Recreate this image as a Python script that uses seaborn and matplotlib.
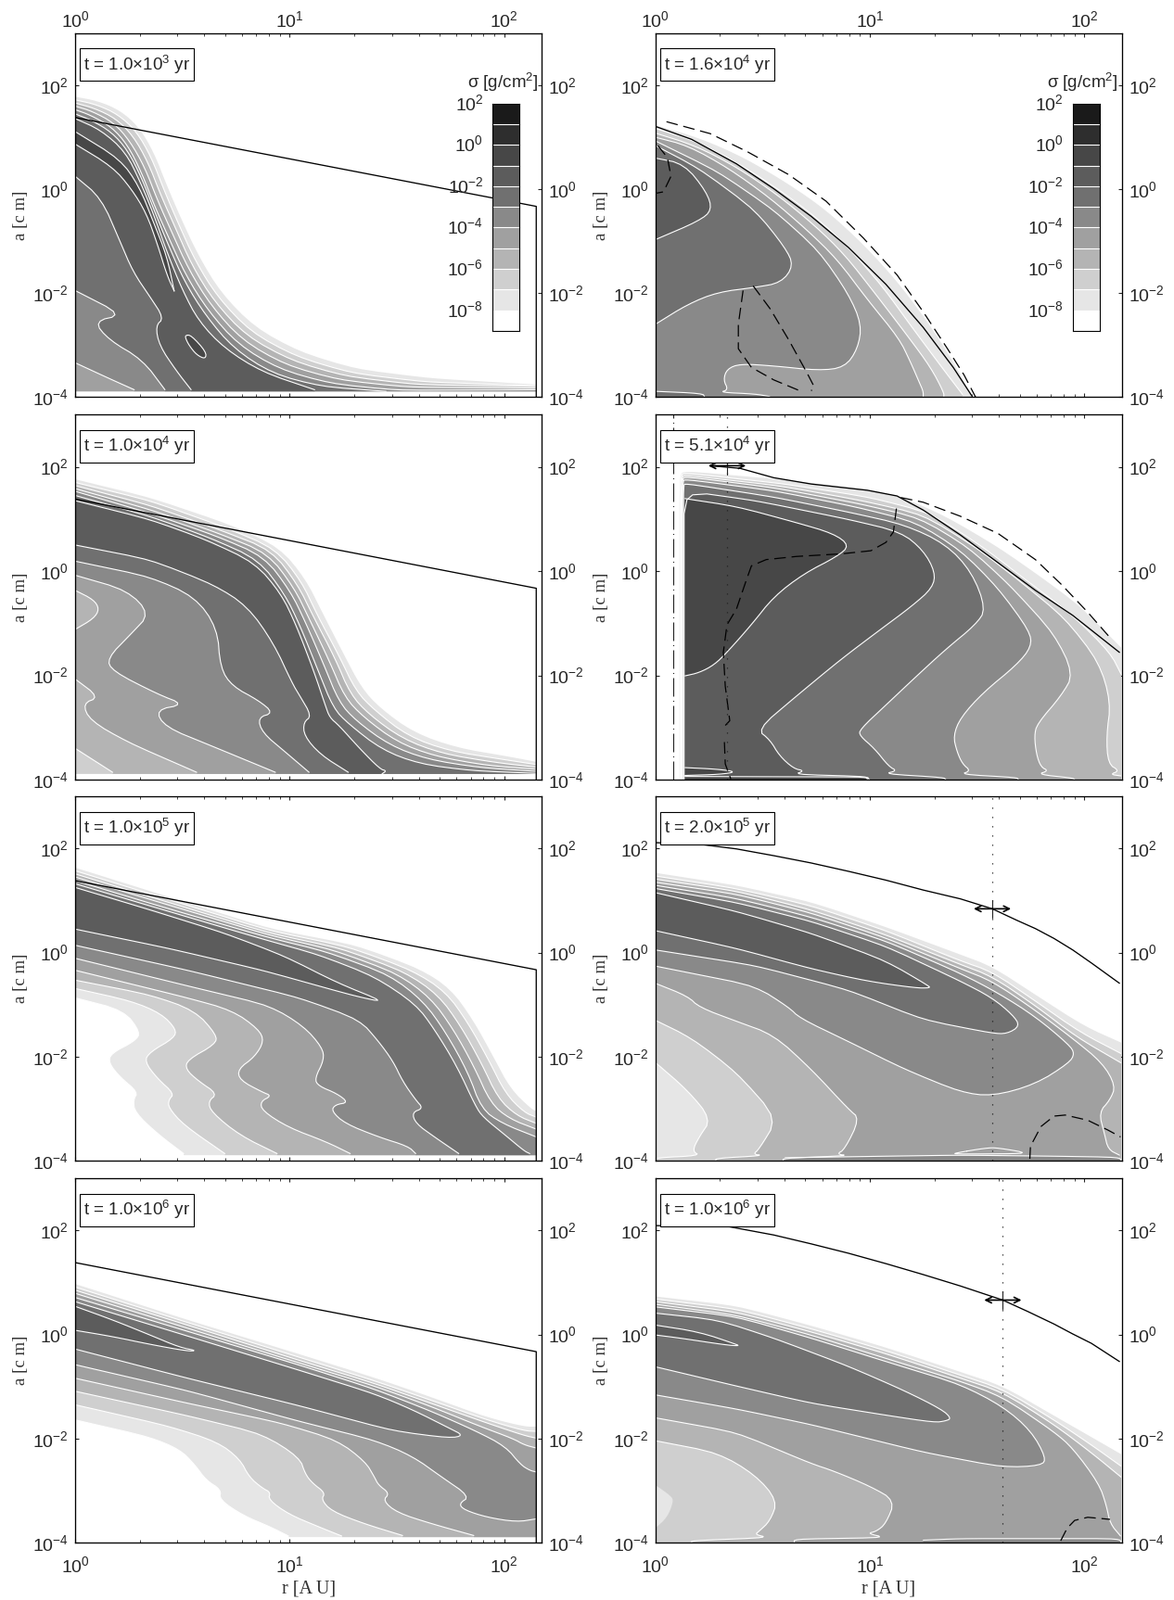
"""
Dust surface density sigma(r, a) at eight times, two columns of log-log panels
All curves are kept as (log10 r, log10 a) pairs read off the figure
"""
import numpy as np
import matplotlib
matplotlib.use('Agg')
import matplotlib.pyplot as plt
from matplotlib.colors import ListedColormap
from matplotlib.patches import Rectangle
from matplotlib.ticker import LogLocator, NullLocator, NullFormatter
import seaborn as sns

W, H = 1266, 1726
FLOOR_L = -3.89
FLOOR_R = -4.0

GREYS = {1: '#1a1a1a', 0: '#2e2e2e', -1: '#474747', -2: '#5c5c5c', -3: '#707070',
         -4: '#898989', -5: '#a0a0a0', -6: '#b4b4b4', -7: '#cfcfcf', -8: '#e6e6e6',
         -9: '#ffffff'}
CBAR_LEVELS = [1, 0, -1, -2, -3, -4, -5, -6, -7, -8, -9]
CBAR_TICKS = [2, 0, -2, -4, -6, -8]

# fragmentation limit of the left column
LIMIT_L = [(0, 1.38), (2.15, -0.33), (2.15, -4.0)]

# ---- panel 1, t = 1e3
P1_M8 = [(0, 1.78), (.105, 1.70), (.209, 1.52), (.297, 1.20), (.366, .72), (.428, .07), (.489, -.52), (.576, -1.29), (.681, -2.0), (.838, -2.66), (1.047, -3.13), (1.309, -3.46), (1.658, -3.64), (2.15, -3.76)]
P1_M7 = [(0, 1.72), (.10, 1.63), (.20, 1.44), (.285, 1.12), (.355, .62), (.415, -.02), (.477, -.62), (.56, -1.38), (.665, -2.08), (.82, -2.75), (1.03, -3.22), (1.29, -3.54), (1.63, -3.71), (2.15, -3.78)]
P1_M6 = [(0, 1.66), (.09, 1.56), (.19, 1.36), (.27, 1.03), (.34, .52), (.40, -.12), (.465, -.72), (.545, -1.47), (.65, -2.17), (.80, -2.83), (1.01, -3.30), (1.26, -3.60), (1.59, -3.76), (2.15, -3.80)]
P1_M5 = [(0, 1.60), (.08, 1.50), (.18, 1.28), (.255, .93), (.325, .42), (.385, -.22), (.45, -.82), (.53, -1.55), (.635, -2.25), (.78, -2.91), (.98, -3.38), (1.23, -3.67), (1.55, -3.81), (2.15, -3.83)]
P1_M4 = [(0, 1.53), (.07, 1.43), (.17, 1.20), (.245, .85), (.31, .32), (.37, -.32), (.435, -.92), (.515, -1.65), (.62, -2.34), (.76, -2.99), (.95, -3.46), (1.19, -3.74), (1.5, -3.87), (2.15, -3.86)]
P1_M3 = [(0, 1.45), (.075, 1.33), (.17, 1.10), (.245, .75), (.31, .22), (.37, -.42), (.432, -1.05), (.51, -1.78), (.61, -2.44), (.74, -3.07), (.92, -3.55), (1.15, -3.80), (1.45, -3.89)]
P1_M2 = [(0, 1.36), (.12, 1.14), (.235, .72), (.305, .13), (.365, -.47), (.43, -1.23), (.50, -1.94), (.576, -2.54), (.698, -3.07), (.873, -3.52), (1.117, -3.86)]
P1_M4_IN = [(0, -3.34), (.157, -3.64), (.276, -3.86)]
P1_M3_IN = [(0, -1.95), (.223, -2.42), (.087, -2.54), (.157, -2.90), (.314, -3.28), (.419, -3.86)]
P1_M2_IN = [(0, .25), (.122, -.17), (.209, -1.0), (.27, -1.59), (.349, -2.07), (.414, -2.48), (.375, -2.63), (.393, -3.01), (.471, -3.49), (.541, -3.86)]
P1_M1 = [(0, 1.11), (.209, .58), (.297, .07), (.366, -.64), (.428, -1.29), (.462, -1.96)]
P1_M1_IN = [(0, .87), (.175, .43), (.262, .01), (.332, -.46), (.384, -1.06), (.428, -1.65), (.462, -1.96)]
P1_ISLAND = [(.515, -2.81), (.541, -2.81), (.611, -3.13), (.608, -3.27), (.567, -3.19), (.532, -3.01), (.515, -2.87)]

# ---- panel 2, t = 1.6e4
P2_M8 = [(0, 1.23), (.204, .99), (.413, .61), (.622, .10), (.796, -.40), (.97, -1.06), (1.127, -1.77), (1.267, -2.54), (1.389, -3.31), (1.476, -4.0)]
P2_M7 = [(0, 1.17), (.186, .93), (.378, .52), (.57, .01), (.744, -.52), (.90, -1.12), (1.057, -1.86), (1.197, -2.66), (1.336, -3.43), (1.432, -3.95)]
P2_M6 = [(0, 1.08), (.186, .84), (.378, .43), (.57, -.11), (.744, -.70), (.883, -1.26), (1.031, -2.04), (1.179, -2.84), (1.284, -3.43), (1.345, -3.91), (1.345, -4.0)]
P2_M5 = [(0, 1.0), (.152, .84), (.343, .40), (.535, -.17), (.709, -.79), (.848, -1.35), (.988, -2.12), (1.136, -2.87), (1.188, -3.31), (1.232, -3.73), (1.249, -3.89), (1.249, -4.0)]
P2_M4 = [(0, .93), (.291, .34), (.552, -.40), (.761, -1.18), (.90, -2.01), (.962, -2.60), (.944, -3.07), (.883, -3.43), (.761, -3.49), (.552, -3.40), (.395, -3.36), (.334, -3.46), (.317, -3.67), (.34, -3.86), (.30, -3.91), (.465, -3.94), (.533, -3.99)]
P2_M3 = [(0, .84), (.204, .40), (.465, -.40), (.605, -1.12), (.645, -1.47), (.587, -1.80), (.465, -1.89), (.291, -1.98), (.152, -2.21), (0, -2.60)]
P2_M2 = [(0, .60), (.134, .49), (.239, -.05), (.265, -.40), (.204, -.61), (0, -.97)]
P2_STRIP = [(0, -3.89), (.221, -3.93), (.23, -4.0)]
P2_LIMIT = [(0, 1.21), (.169, .96), (.378, .49), (.552, .01), (.726, -.52), (.9, -1.12), (1.075, -1.83), (1.249, -2.66), (1.389, -3.43), (1.476, -3.98)]
P2_DASH_A = [(.052, 1.30), (.256, 1.07), (.43, .72), (.622, .28), (.796, -.23), (.97, -.94), (1.127, -1.65), (1.249, -2.36), (1.362, -3.07), (1.44, -3.58), (1.493, -4.0)]
P2_DASH_B = [(.012, .84), (.056, .61), (.073, .25), (.038, -.05), (0, -.08)]
P2_DASH_C = [(.409, -1.95), (.387, -2.60), (.387, -3.07), (.448, -3.43), (.552, -3.67), (.674, -3.88)]
P2_DASH_D = [(.456, -1.86), (.535, -2.30), (.622, -2.90), (.709, -3.55), (.739, -3.79), (.727, -3.88)]

# ---- panel 3, t = 1e4
P3_M8 = [(0, 1.76), (.349, 1.41), (.716, .90), (.951, .46), (1.073, -.14), (1.152, -.79), (1.248, -1.56), (1.335, -2.24), (1.422, -2.63), (1.579, -3.10), (1.78, -3.39), (2.024, -3.56), (2.15, -3.66)]
P3_M7 = [(0, 1.70), (.349, 1.35), (.698, .84), (.934, .43), (1.056, -.20), (1.126, -.82), (1.230, -1.62), (1.309, -2.30), (1.396, -2.67), (1.553, -3.17), (1.745, -3.45), (1.99, -3.61), (2.15, -3.71)]
P3_M6 = [(0, 1.64), (.349, 1.26), (.681, .78), (.916, .40), (1.038, -.26), (1.108, -.85), (1.213, -1.68), (1.283, -2.36), (1.37, -2.75), (1.527, -3.22), (1.71, -3.50), (1.955, -3.67), (2.15, -3.76)]
P3_M5 = [(0, 1.58), (.349, 1.18), (.672, .72), (.899, .34), (1.021, -.32), (1.091, -.91), (1.187, -1.74), (1.257, -2.42), (1.344, -2.80), (1.501, -3.28), (1.676, -3.55), (1.92, -3.73), (2.15, -3.80)]
P3_M4 = [(0, 1.53), (.349, 1.11), (.654, .68), (.881, .28), (1.003, -.38), (1.073, -.97), (1.16, -1.80), (1.23, -2.51), (1.309, -2.87), (1.466, -3.34), (1.641, -3.61), (1.885, -3.77), (2.15, -3.84)]
P3_M3 = [(0, 1.45), (.349, 1.05), (.628, .64), (.855, .22), (.977, -.44), (1.047, -1.03), (1.134, -1.92), (1.204, -2.63), (1.274, -2.93), (1.431, -3.43), (1.606, -3.70), (1.85, -3.83), (2.15, -3.88)]
P3_M2 = [(0, 1.35), (.349, .99), (.611, .60), (.838, .16), (.96, -.43), (1.03, -1.03), (1.113, -1.92), (1.166, -2.57), (1.187, -2.81), (1.23, -2.96), (1.326, -3.40), (1.422, -3.80), (1.452, -3.83), (1.431, -3.89)]
P3_M2_IN = [(0, .50), (.349, .22), (.646, -.26), (.803, -.67), (.925, -1.38), (1.012, -2.15), (1.047, -2.39), (1.103, -2.78), (1.065, -2.90), (1.068, -3.16), (1.143, -3.52), (1.274, -3.86)]
P3_M3_IN = [(0, .19), (.349, -.11), (.558, -.49), (.663, -1.09), (.677, -1.86), (.733, -2.21), (.855, -2.48), (.925, -2.72), (.852, -2.81), (.873, -3.10), (.977, -3.46), (1.091, -3.86)]
P3_M4_IN = [(0, -.08), (.244, -.37), (.349, -.82), (.262, -1.20), (.148, -1.68), (.175, -1.92), (.384, -2.36), (.51, -2.56), (.375, -2.66), (.419, -2.99), (.628, -3.34), (.934, -3.86)]
P3_M5_IN = [(0, -2.07), (.113, -2.42), (.035, -2.54), (.07, -2.87), (.244, -3.28), (.567, -3.86)]
P3_M6_IN = [(0, -3.40), (.175, -3.86)]
P3_POCKET = [(0, -.37), (.087, -.55), (.113, -.73), (.087, -.91), (0, -1.12)]

# ---- panel 4, t = 5.1e4
P4_M8 = [(.113, -4.0), (.113, 1.84), (.138, 1.92), (.627, 1.74), (1.024, 1.54), (1.162, 1.40), (1.354, 1.05), (1.598, .46), (1.807, -.14), (1.98, -.67), (2.172, -1.47)]
P4_M7 = [(.117, -4.0), (.117, 1.84), (.14, 1.88), (.605, 1.67), (1.005, 1.41), (1.284, 1.11), (1.528, .46), (1.737, -.20), (1.946, -.85), (2.12, -1.56), (2.172, -1.98)]
P4_M6 = [(.12, -4.0), (.12, 1.80), (.14, 1.84), (.587, 1.63), (.965, 1.35), (1.249, 1.08), (1.493, .46), (1.702, -.20), (1.911, -.91), (2.068, -1.74), (2.124, -2.51), (2.103, -3.16), (2.111, -3.70), (2.164, -3.83), (2.12, -3.90), (2.172, -3.93)]
P4_M5 = [(.124, -4.0), (.124, 1.76), (.14, 1.81), (.552, 1.60), (.953, 1.29), (1.232, 1.02), (1.458, .46), (1.65, -.26), (1.859, -1.20), (1.951, -1.97), (1.893, -2.39), (1.78, -2.93), (1.767, -3.16), (1.777, -3.52), (1.798, -3.76), (1.833, -3.83), (1.781, -3.90), (1.946, -3.97), (1.955, -4.0)]
P4_M4 = [(.127, -4.0), (.127, 1.72), (.14, 1.76), (.552, 1.54), (.936, 1.23), (1.214, .94), (1.423, .40), (1.597, -.32), (1.745, -1.15), (1.754, -1.45), (1.685, -1.80), (1.528, -2.33), (1.423, -2.81), (1.389, -3.16), (1.406, -3.46), (1.432, -3.70), (1.470, -3.83), (1.423, -3.90), (1.685, -3.96), (1.693, -4.0)]
P4_M3 = [(.131, -4.0), (.131, 1.64), (.14, 1.68), (.552, 1.42), (.902, 1.13), (1.162, .89), (1.354, .52), (1.476, -.02), (1.542, -.73), (1.493, -1.03), (1.354, -1.5), (1.214, -2.03), (1.075, -2.57), (.953, -3.04), (.953, -3.16), (1.021, -3.40), (1.089, -3.75), (1.127, -3.83), (1.066, -3.89), (1.345, -3.96), (1.354, -4.0)]
P4_M2 = [(.134, -4.0), (.134, 1.54), (.467, 1.35), (.902, .99), (1.145, .75), (1.249, .40), (1.305, -.02), (1.293, -.32), (1.197, -.67), (1.04, -1.15), (.866, -1.69), (.657, -2.40), (.474, -3.04), (.535, -3.24), (.578, -3.54), (.645, -3.79), (.695, -3.83), (.648, -3.90), (.988, -3.94), (.997, -4.0)]
P4_M1 = [(.138, 1.39), (.378, 1.24), (.657, .93), (.831, .72), (.906, .49), (.848, .28), (.692, -.05), (.552, -.49), (.448, -1.03), (.334, -1.56), (.274, -1.80), (.204, -1.95), (.138, -2.01)]
P4_PATCH_A = [(.138, -3.77), (.291, -3.80), (.378, -3.85), (.305, -3.90), (.138, -3.92)]
P4_PATCH_B = [(.138, -3.94), (.988, -3.95), (.988, -4.0)]
P4_LIMIT = [(.256, 2.02), (.395, 1.97), (.552, 1.79), (.726, 1.67), (.988, 1.55), (1.127, 1.44), (1.249, 1.17), (1.423, .69), (1.598, .16), (1.772, -.37), (1.946, -.85), (2.164, -1.56)]
P4_DASH_A = [(1.145, 1.41), (1.249, 1.32), (1.423, 1.05), (1.598, .72), (1.772, .22), (1.894, -.26), (2.016, -.79), (2.129, -1.32)]
P4_DASH_B = [(1.124, 1.20), (1.11, .75), (1.075, .55), (1.005, .39), (.866, .33), (.657, .28), (.517, .22), (.448, .10), (.422, -.20), (.378, -.73), (.334, -1.03), (.317, -1.56), (.326, -2.21), (.347, -2.87), (.308, -3.04)]
P4_DASH_C = [(.322, -3.28), (.326, -3.70), (.352, -3.99)]

# ---- panel 5, t = 1e5
P5_M8 = [(0, 1.63), (.908, .46), (1.309, .14), (1.606, -.31), (1.75, -.69), (1.855, -1.29), (1.95, -2.0), (2.03, -2.62), (2.129, -3.01), (2.15, -3.04)]
P5_M7 = [(0, 1.57), (.908, .42), (1.274, .11), (1.571, -.34), (1.728, -.75), (1.832, -1.35), (1.928, -2.06), (2.007, -2.71), (2.094, -3.07), (2.15, -3.16)]
P5_M6 = [(0, 1.51), (.908, .37), (1.239, .08), (1.536, -.37), (1.693, -.81), (1.798, -1.41), (1.894, -2.12), (1.972, -2.80), (2.059, -3.13), (2.15, -3.28)]
P5_M5 = [(0, 1.45), (.908, .33), (1.204, .05), (1.501, -.40), (1.658, -.87), (1.763, -1.47), (1.859, -2.18), (1.937, -2.89), (2.024, -3.19), (2.15, -3.39)]
P5_M4 = [(0, 1.38), (.436, .84), (.908, .28), (1.169, .02), (1.466, -.43), (1.623, -.93), (1.728, -1.53), (1.832, -2.30), (1.894, -3.0), (1.99, -3.28), (2.15, -3.54)]
P5_M3 = [(0, 1.32), (.436, .79), (.873, .26), (1.134, -.04), (1.396, -.46), (1.588, -.99), (1.675, -1.47), (1.78, -2.18), (1.867, -2.95), (1.902, -3.16), (2.007, -3.51), (2.094, -3.81), (2.12, -3.86)]
P5_M2 = [(0, 1.25), (.349, .82), (.698, .37), (.977, -.07), (1.222, -.58), (1.45, -.96), (1.309, -.84), (.873, -.34), (.436, .08), (0, .45)]
P5_M3_IN = [(0, .14), (.524, -.34), (1.047, -.87), (1.326, -1.29), (1.414, -1.70), (1.483, -2.09), (1.527, -2.47), (1.588, -2.83), (1.623, -2.99), (1.571, -3.07), (1.588, -3.28), (1.675, -3.54), (1.789, -3.86)]
P5_M4_IN = [(0, -.11), (.524, -.64), (.908, -1.02), (1.065, -1.41), (1.152, -1.82), (1.161, -2.06), (1.117, -2.42), (1.134, -2.56), (1.222, -2.71), (1.274, -2.88), (1.213, -2.92), (1.195, -3.04), (1.257, -3.28), (1.414, -3.54), (1.553, -3.72), (1.588, -3.86)]
P5_M5_IN = [(0, -.34), (.524, -.87), (.733, -1.11), (.855, -1.47), (.881, -1.70), (.838, -2.0), (.759, -2.24), (.768, -2.45), (.873, -2.68), (.916, -2.75), (.864, -2.86), (.873, -3.04), (.995, -3.36), (1.169, -3.63), (1.283, -3.86)]
P5_M6_IN = [(0, -.53), (.349, -.81), (.558, -1.11), (.66, -1.58), (.654, -1.76), (.524, -2.06), (.515, -2.24), (.576, -2.47), (.663, -2.71), (.62, -2.86), (.637, -3.07), (.768, -3.51), (.942, -3.86)]
P5_M7_IN = [(0, -.69), (.262, -.93), (.401, -1.17), (.471, -1.47), (.462, -1.64), (.349, -1.91), (.323, -2.09), (.384, -2.42), (.462, -2.71), (.436, -2.83), (.436, -2.98), (.506, -3.31), (.698, -3.86)]
P5_M8_IN = [(0, -.87), (.227, -1.11), (.305, -1.53), (.279, -1.70), (.166, -1.94), (.157, -2.12), (.209, -2.39), (.293, -2.68), (.271, -2.83), (.279, -3.07), (.384, -3.48), (.506, -3.86)]

# ---- panel 6, t = 2e5
P6_M8 = [(0, 1.53), (.378, 1.29), (.726, .97), (1.075, .49), (1.423, -.04), (1.571, -.27), (1.772, -.81), (1.998, -1.41), (2.172, -1.73)]
P6_M7 = [(0, 1.47), (.378, 1.23), (.726, .90), (1.075, .42), (1.423, -.16), (1.571, -.37), (1.772, -.93), (1.98, -1.53), (2.172, -1.94)]
P6_M6 = [(0, 1.41), (.378, 1.18), (.726, .82), (1.075, .34), (1.423, -.23), (1.571, -.46), (1.772, -1.02), (1.963, -1.62), (2.172, -2.12)]
P6_M5 = [(0, 1.35), (.378, 1.12), (.726, .76), (1.075, .28), (1.423, -.31), (1.571, -.55), (1.772, -1.11), (1.946, -1.65), (2.085, -2.12), (2.146, -2.56), (2.12, -2.83), (2.068, -3.07), (2.094, -3.48), (2.111, -3.78), (2.164, -3.89)]
P6_M4 = [(0, 1.29), (.378, 1.04), (.726, .68), (1.075, .22), (1.423, -.40), (1.60, -.78), (1.772, -1.23), (1.929, -1.77), (1.955, -1.94), (1.929, -2.12), (1.772, -2.53), (1.571, -2.76), (1.423, -2.68), (1.162, -2.24), (.901, -1.71), (.674, -1.26), (.622, -1.05), (.465, -.64), (0, -.26)]
P6_M3 = [(0, 1.23), (.378, .96), (.726, .60), (1.075, .12), (1.423, -.55), (1.571, -.87), (1.667, -1.20), (1.70, -1.41), (1.64, -1.56), (1.571, -1.55), (1.249, -1.29), (.901, -.72), (.465, -.25), (0, .05)]
P6_M2 = [(0, 1.15), (.378, .79), (.726, .37), (1.075, -.16), (1.275, -.64), (1.28, -.68), (1.214, -.68), (.988, -.55), (.726, -.31), (.378, .08), (0, .42)]
P6_M5_IN = [(0, -.59), (.152, -.84), (.204, -1.05), (.378, -1.32), (.552, -1.58), (.727, -2.24), (.901, -3.01), (.953, -3.19), (.883, -3.78), (.845, -3.87), (.901, -3.90), (.596, -3.95), (.596, -4.0)]
P6_M6_IN = [(0, -1.30), (.169, -1.64), (.378, -2.30), (.57, -3.19), (.483, -3.78), (.456, -3.87), (.503, -3.90), (.282, -3.95), (.282, -4.0)]
P6_M7_IN = [(0, -2.11), (.152, -2.65), (.261, -3.20), (.204, -3.54), (.172, -3.81), (.209, -3.90), (0, -3.94), (0, -4.0)]
P6_ISLE = [(1.397, -3.85), (1.545, -3.75), (1.598, -3.75), (1.754, -3.86), (1.397, -3.87)]
P6_STRIP = [(.605, -3.94), (1.075, -3.91), (1.423, -3.89), (1.859, -3.91), (2.164, -3.93), (2.172, -4.0)]
P6_LIMIT = [(0, 2.11), (.204, 2.08), (.378, 1.99), (.552, 1.86), (.726, 1.72), (.90, 1.56), (1.075, 1.39), (1.249, 1.20), (1.423, 1.03), (1.571, .84), (1.685, .62), (1.772, .46), (1.859, .27), (1.946, .05), (2.033, -.20), (2.164, -.59)]
P6_DASH = [(1.746, -3.96), (1.749, -3.72), (1.798, -3.34), (1.859, -3.14), (1.911, -3.12), (2.016, -3.22), (2.111, -3.41), (2.169, -3.54)]

# ---- panel 7, t = 1e6
P7_M8 = [(0, .97), (.524, .28), (1.047, -.38), (1.396, -.83), (1.658, -1.20), (1.92, -1.59), (2.094, -1.77), (2.15, -1.77)]
P7_M7 = [(0, .91), (.524, .23), (1.047, -.44), (1.396, -.89), (1.658, -1.26), (1.92, -1.64), (2.094, -1.85), (2.15, -1.86)]
P7_M6 = [(0, .85), (.524, .18), (1.047, -.50), (1.396, -.94), (1.658, -1.32), (1.92, -1.70), (2.094, -1.94), (2.15, -1.99)]
P7_M5 = [(0, .79), (.524, .12), (1.047, -.55), (1.396, -.99), (1.658, -1.38), (1.885, -1.76), (2.042, -2.0), (2.094, -2.12), (2.15, -2.18)]
P7_M4 = [(0, .71), (.524, .06), (1.047, -.59), (1.396, -1.05), (1.658, -1.47), (1.867, -1.85), (2.007, -2.15), (2.077, -2.50), (2.12, -2.61), (2.15, -2.64)]
P7_M3 = [(0, .63), (.524, -.03), (1.047, -.69), (1.396, -1.14), (1.571, -1.44), (1.745, -1.80), (1.812, -1.94), (1.745, -1.99), (1.483, -1.85), (1.047, -1.37), (.524, -.84), (0, -.28)]
P7_M2 = [(0, .54), (.175, .28), (.349, -.01), (.489, -.25), (.567, -.31), (.524, -.32), (.349, -.19), (.175, -.04), (0, .08)]
P7_M4_IN = [(0, -.58), (.524, -1.08), (1.047, -1.67), (1.396, -2.03), (1.571, -2.33), (1.71, -2.74), (1.841, -3.11), (1.789, -3.25), (1.815, -3.37), (1.92, -3.51), (2.059, -3.60), (2.15, -3.54)]
P7_M5_IN = [(0, -.84), (.524, -1.32), (.96, -1.70), (1.222, -2.03), (1.353, -2.44), (1.396, -2.74), (1.414, -2.89), (1.466, -3.05), (1.435, -3.19), (1.501, -3.42), (1.658, -3.63), (1.859, -3.86)]
P7_M6_IN = [(0, -1.09), (.524, -1.56), (.873, -1.91), (1.047, -2.36), (1.073, -2.68), (1.108, -2.86), (1.166, -3.04), (1.148, -3.17), (1.195, -3.39), (1.344, -3.63), (1.527, -3.86)]
P7_M7_IN = [(0, -1.35), (.436, -1.76), (.663, -2.06), (.768, -2.39), (.812, -2.74), (.873, -2.95), (.911, -3.03), (.901, -3.17), (.995, -3.45), (1.134, -3.69), (1.243, -3.87)]
P7_M8_IN = [(0, -1.64), (.349, -1.97), (.489, -2.21), (.558, -2.50), (.611, -2.80), (.681, -2.98), (.672, -3.17), (.785, -3.48), (.908, -3.69), (.995, -3.87)]

# ---- panel 8, t = 1e6
P8_M8 = [(0, .73), (.378, .55), (.726, .17), (1.075, -.25), (1.423, -.72), (1.62, -.99), (1.859, -1.56), (2.033, -1.97), (2.172, -2.30)]
P8_M7 = [(0, .68), (.378, .49), (.726, .11), (1.075, -.31), (1.423, -.78), (1.62, -1.05), (1.859, -1.64), (2.033, -2.12), (2.172, -2.53)]
P8_M6 = [(0, .63), (.378, .43), (.726, .05), (1.075, -.37), (1.423, -.84), (1.62, -1.11), (1.859, -1.73), (2.033, -2.27), (2.172, -2.74)]
P8_M5 = [(0, .58), (.378, .37), (.726, -.01), (1.075, -.46), (1.423, -.90), (1.62, -1.20), (1.859, -1.87), (1.946, -2.18), (2.068, -2.86), (2.103, -3.28), (2.12, -3.63), (2.169, -3.87)]
P8_M4 = [(0, .53), (.378, .34), (.726, -.07), (1.075, -.52), (1.423, -.96), (1.62, -1.38), (1.752, -1.85), (1.822, -2.37), (1.80, -2.52), (1.62, -2.55), (1.249, -2.26), (.726, -1.73), (.378, -1.43), (0, -1.16)]
P8_M3 = [(0, .41), (.291, .28), (.552, -.07), (.90, -.61), (1.162, -1.08), (1.336, -1.44), (1.38, -1.61), (1.354, -1.66), (1.301, -1.69), (1.075, -1.55), (.726, -1.32), (.378, -.99), (0, -.62)]
P8_M2 = [(0, .18), (.204, .05), (.378, -.19), (.39, -.22), (.326, -.20), (.117, -.07), (0, -.01)]
P8_M5_IN = [(0, -1.60), (.378, -1.88), (.727, -2.48), (.831, -2.62), (1.005, -2.92), (1.118, -3.19), (1.075, -3.63), (1.031, -3.78), (.988, -3.82), (1.075, -3.90), (.648, -3.93), (.648, -4.0)]
P8_M6_IN = [(0, -2.04), (.291, -2.27), (.465, -2.69), (.57, -3.19), (.535, -3.58), (.483, -3.78), (.465, -3.84), (.526, -3.90), (.169, -3.96), (.169, -4.0)]
P8_POCKET = [(0, -2.89), (.073, -3.10), (.085, -3.20), (.056, -3.51), (0, -3.72)]
P8_STRIP = [(1.249, -3.95), (1.423, -3.92), (1.772, -3.92), (2.164, -3.92), (2.172, -4.0)]
P8_LIMIT = [(0, 2.09), (.343, 2.07), (.552, 1.91), (.726, 1.74), (.90, 1.56), (1.075, 1.36), (1.249, 1.15), (1.423, .93), (1.62, .66), (1.737, .44), (1.859, .20), (1.946, .01), (2.033, -.17), (2.164, -.52)]
P8_DASH = [(1.89, -3.96), (1.92, -3.72), (1.955, -3.57), (2.016, -3.51), (2.12, -3.55)]

TITLES = ['t = 1.0$\\times$10$^{3}$ yr', 't = 1.6$\\times$10$^{4}$ yr',
          't = 1.0$\\times$10$^{4}$ yr', 't = 5.1$\\times$10$^{4}$ yr',
          't = 1.0$\\times$10$^{5}$ yr', 't = 2.0$\\times$10$^{5}$ yr',
          't = 1.0$\\times$10$^{6}$ yr', 't = 1.0$\\times$10$^{6}$ yr']

# (level, outer line, inner line, floor)  painted in this order
BANDS = [
    [(-8, P1_M8, None, FLOOR_L), (-7, P1_M7, None, FLOOR_L), (-6, P1_M6, None, FLOOR_L),
     (-5, P1_M5, None, FLOOR_L), (-4, P1_M4, P1_M4_IN, FLOOR_L), (-3, P1_M3, P1_M3_IN, FLOOR_L),
     (-2, P1_M2, P1_M2_IN, FLOOR_L), (-1, P1_M1, P1_M1_IN, None), (-1, P1_ISLAND, None, None)],
    [(-8, P2_M8, None, FLOOR_R), (-7, P2_M7, None, FLOOR_R), (-6, P2_M6, None, FLOOR_R),
     (-5, P2_M5, None, FLOOR_R), (-4, P2_M4, None, FLOOR_R), (-3, P2_M3, None, None),
     (-2, P2_M2, None, None), (-3, P2_STRIP, None, FLOOR_R)],
    [(-8, P3_M8, None, FLOOR_L), (-7, P3_M7, None, FLOOR_L), (-6, P3_M6, P3_M6_IN, FLOOR_L),
     (-5, P3_M5, P3_M5_IN, FLOOR_L), (-4, P3_M4, P3_M4_IN, FLOOR_L), (-3, P3_M3, P3_M3_IN, FLOOR_L),
     (-2, P3_M2, P3_M2_IN, FLOOR_L), (-6, P3_POCKET, None, None)],
    [(-8, P4_M8, None, FLOOR_R), (-7, P4_M7, None, FLOOR_R), (-6, P4_M6, None, FLOOR_R),
     (-5, P4_M5, None, FLOOR_R), (-4, P4_M4, None, FLOOR_R), (-3, P4_M3, None, FLOOR_R),
     (-2, P4_M2, None, FLOOR_R), (-1, P4_M1, None, None), (-1, P4_PATCH_A, None, None),
     (-1, P4_PATCH_B, None, FLOOR_R)],
    [(-8, P5_M8, P5_M8_IN, FLOOR_L), (-7, P5_M7, P5_M7_IN, FLOOR_L), (-6, P5_M6, P5_M6_IN, FLOOR_L),
     (-5, P5_M5, P5_M5_IN, FLOOR_L), (-4, P5_M4, P5_M4_IN, FLOOR_L), (-3, P5_M3, P5_M3_IN, FLOOR_L),
     (-2, P5_M2, None, None)],
    [(-8, P6_M8, None, FLOOR_R), (-7, P6_M7, P6_M7_IN, FLOOR_R), (-6, P6_M6, P6_M6_IN, FLOOR_R),
     (-5, P6_M5, P6_M5_IN, FLOOR_R), (-4, P6_M4, None, None), (-3, P6_M3, None, None),
     (-2, P6_M2, None, None), (-5, P6_ISLE, None, None), (-4, P6_STRIP, None, FLOOR_R)],
    [(-8, P7_M8, P7_M8_IN, FLOOR_L), (-7, P7_M7, P7_M7_IN, FLOOR_L), (-6, P7_M6, P7_M6_IN, FLOOR_L),
     (-5, P7_M5, P7_M5_IN, FLOOR_L), (-4, P7_M4, P7_M4_IN, None), (-3, P7_M3, None, None),
     (-2, P7_M2, None, None)],
    [(-8, P8_M8, None, FLOOR_R), (-7, P8_M7, None, FLOOR_R), (-6, P8_M6, P8_M6_IN, FLOOR_R),
     (-5, P8_M5, P8_M5_IN, FLOOR_R), (-4, P8_M4, None, None), (-3, P8_M3, None, None),
     (-2, P8_M2, None, None), (-8, P8_POCKET, None, None), (-4, P8_STRIP, None, FLOOR_R)],
]
LIMITS = [LIMIT_L, P2_LIMIT, LIMIT_L, P4_LIMIT, LIMIT_L, P6_LIMIT, LIMIT_L, P8_LIMIT]
DASHED = [[], [P2_DASH_A, P2_DASH_B, P2_DASH_C, P2_DASH_D], [], [P4_DASH_A, P4_DASH_B, P4_DASH_C],
          [], [P6_DASH], [], [P8_DASH]]
# r of the dotted line, a of the arrow, arrow span and tick span, all log10
MARKERS = {3: (.334, 2.02, (.247, .422), (1.85, 2.07)),
           5: (1.571, .84, (1.484, 1.658), (.67, 1.0)),
           7: (1.62, .66, (1.533, 1.707), (.49, .83))}
ISLANDS = [P1_ISLAND, P6_ISLE]

COL_X = [(81.0, 584.3), (706.7, 1210.0)]
ROW_Y = [(36.0, 428.3), (447.3, 841.0), (859.0, 1252.3), (1271.0, 1664.3)]


def soften(pts, closed=False):
    # round the corners of a hand read polyline, a-decades as length unit
    pts = np.asarray(pts, dtype=float)
    for _ in range(2):
        n = len(pts)
        out = [] if closed else [pts[0]]
        for i in range(n if closed else n - 1):
            p, q = pts[i], pts[(i + 1) % n]
            d = q - p
            t = min(.25, .22 / max(np.hypot(4.1 * d[0], d[1]), 1e-6))
            out += [p + t * d, q - t * d]
        if not closed:
            out.append(pts[-1])
        pts = np.array(out)
    return pts


def draw_band(ax, level, outer, inner, floor):
    closed = any(outer is isle for isle in ISLANDS)
    line = soften(outer, closed)
    poly = list(line)
    strokes = [line]
    if floor is not None:
        poly.append((line[-1][0], floor))
    if inner is not None:
        low = soften(inner)
        strokes.append(low)
        if floor is not None:
            poly.append((low[-1][0], floor))
        poly += list(low[::-1])
    elif floor is not None:
        poly.append((line[0][0], floor))
    poly = np.array(poly)
    ax.fill(10 ** poly[:, 0], 10 ** poly[:, 1], color=GREYS[level], lw=0, zorder=1)
    if level > -8 or inner is not None:
        for s in strokes[(0 if level > -8 else 1):]:
            if closed:
                s = np.vstack([s, s[:1]])
            ax.plot(10 ** s[:, 0], 10 ** s[:, 1], color='white', lw=.8, zorder=2)


def add_colorbar(fig, x0, x1, label_x):
    y0, y1 = 111.7, 357.0
    cax = fig.add_axes([x0 / W, 1 - y1 / H, (x1 - x0) / W, (y1 - y0) / H])
    cells = np.arange(len(CBAR_LEVELS)).reshape(-1, 1)
    sns.heatmap(cells, ax=cax, cmap=ListedColormap([GREYS[l] for l in CBAR_LEVELS]),
                cbar=False, xticklabels=False)
    cax.hlines(range(1, len(CBAR_LEVELS)), 0, 1, color='white', lw=.8)
    for s in cax.spines.values():
        s.set_visible(True)
        s.set_color('black')
        s.set_linewidth(.8)
    cax.set_yticks([2 - t for t in CBAR_TICKS])
    cax.set_yticklabels(['10$^{%d}$' % t for t in CBAR_TICKS], rotation=0, fontsize=14)
    cax.tick_params(left=False, pad=1)
    fig.text(label_x / W, 1 - 88.5 / H, '\u03c3 [g/cm$^2$]', ha='right', va='center', fontsize=13.5)


sns.set_theme(style='ticks', rc={'axes.linewidth': .95, 'mathtext.default': 'regular'})
plt.rcParams['font.family'] = ['Liberation Sans', 'DejaVu Sans']

fig = plt.figure(figsize=(W / 100, H / 100), dpi=100)

for i in range(8):
    row, col = i // 2, i % 2
    x0, x1 = COL_X[col]
    y0, y1 = ROW_Y[row]
    ax = fig.add_axes([x0 / W, 1 - y1 / H, (x1 - x0) / W, (y1 - y0) / H])
    ax.set_xscale('log')
    ax.set_yscale('log')

    for level, outer, inner, floor in BANDS[i]:
        draw_band(ax, level, outer, inner, floor)

    limit = np.array(LIMITS[i])
    sns.lineplot(x=10 ** limit[:, 0], y=10 ** limit[:, 1], sort=False, estimator=None,
                 color='black', lw=.95, ax=ax, zorder=3, legend=False)
    for dash in DASHED[i]:
        dash = np.array(dash)
        sns.lineplot(x=10 ** dash[:, 0], y=10 ** dash[:, 1], sort=False, estimator=None,
                     color='black', lw=.9, linestyle=(0, (10, 5)), ax=ax, zorder=3, legend=False)

    if i in MARKERS:
        r, a, span, tick = MARKERS[i]
        ax.axvline(10 ** r, color='#222222', lw=.9, ls=(0, (1, 7)), zorder=3)
        ax.plot([10 ** r, 10 ** r], [10 ** tick[0], 10 ** tick[1]], color='#222222', lw=.8, zorder=3)
        ax.annotate('', xy=(10 ** span[1], 10 ** a), xytext=(10 ** span[0], 10 ** a),
                    arrowprops=dict(arrowstyle='<->', color='black', lw=1.2, shrinkA=0, shrinkB=0,
                                    mutation_scale=11), zorder=4)
    if i == 3:
        ax.axvline(10 ** .085, color='#222222', lw=.8, ls=(0, (18, 4, 1, 4)), zorder=3)

    ax.set_xlim(1, 150)
    ax.set_ylim(1e-4, 1e3)
    ax.set_yticks([1e-4, 1e-2, 1, 1e2])
    ax.yaxis.set_minor_locator(NullLocator())
    ax.xaxis.set_major_locator(LogLocator(base=10, numticks=5))
    ax.xaxis.set_minor_locator(LogLocator(base=10, subs=range(2, 10), numticks=12))
    ax.xaxis.set_minor_formatter(NullFormatter())
    ax.tick_params(which='major', direction='in', length=3, width=.8, top=True, right=True,
                   left=True, bottom=True, labelsize=14, pad=5, labelleft=True, labelright=True,
                   labeltop=row == 0, labelbottom=row == 3)
    ax.tick_params(axis='x', which='major', pad=10 if row == 3 else 2)
    ax.tick_params(which='minor', direction='in', length=2, width=.6, top=True, bottom=True)
    for s in ax.spines.values():
        s.set_visible(True)
        s.set_color('black')
        s.set_zorder(6)

    ax.set_xlabel('r [A U]' if row == 3 else '', family='Liberation Serif', fontsize=14.5, color='#333333')
    ax.set_ylabel('a [c m]', family='Liberation Serif', fontsize=13.5, color='#333333')
    ax.xaxis.set_label_coords(.5, -.103)
    ax.yaxis.set_label_coords(-.0995, .5)

    ax.add_patch(Rectangle((.0104, .869), .2446, .089, transform=ax.transAxes, facecolor='white',
                           edgecolor='black', lw=.8, zorder=5))
    ax.text(.0104 + .1223, .869 + .0445, TITLES[i], transform=ax.transAxes, ha='center', va='center',
            fontsize=13.5, zorder=6)

add_colorbar(fig, 531.0, 560.2, 580.0)
add_colorbar(fig, 1156.7, 1186.0, 1205.7)

fig.savefig('out.png', dpi=100)
